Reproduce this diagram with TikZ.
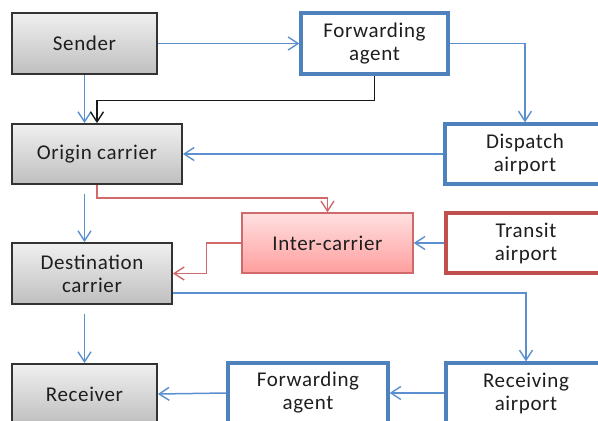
\documentclass[tikz,border=0pt]{standalone}
\usepackage{fontspec}
\setmainfont{Carlito}[LetterSpace=3]
\usetikzlibrary{arrows.meta,positioning}
\definecolor{bline}{HTML}{5B8FD0}
\definecolor{bbox}{HTML}{4F81BD}
\definecolor{rline}{HTML}{D06A6A}
\definecolor{rbox}{HTML}{C0504D}
\definecolor{txt}{HTML}{1E1E1E}
\tikzset{
  base/.style={rectangle, inner sep=0pt, align=center, text=txt,
    font=\fontsize{21}{23}\selectfont},
  greybox/.style={base, draw=black!80, line width=1.8pt,
    top color=black!6, bottom color=black!25},
  bluebox/.style={base, draw=bbox, line width=3.2pt, fill=white},
  redbox/.style={base, draw=rbox, line width=3.2pt, fill=white},
  pinkbox/.style={base, draw=rline, line width=1.4pt,
    top color=red!12, bottom color=red!38},
  tip/.style={-{Straight Barb[length=10pt,width=13pt,line width=1.4pt]}},
  bconn/.style={tip, draw=bline, line width=1.5pt},
  rconn/.style={tip, draw=rline, line width=1.5pt},
  kconn/.style={tip, draw=black!90, line width=1.4pt},
}
\begin{document}
\begin{tikzpicture}[x=1pt,y=-1pt]
\useasboundingbox (0,0) rectangle (598,421);
\clip (0,0) rectangle (598,421);
\node[greybox, minimum width=145pt, minimum height=61pt] (sender) at (84.5,43.5) {Sender};
\node[greybox, minimum width=170pt, minimum height=60pt] (origin) at (97,154) {Origin carrier};
\node[greybox, minimum width=160pt, minimum height=61pt] (dest) at (92,273.5) {Destination\\carrier};
\node[greybox, minimum width=145pt, minimum height=60pt] (receiver) at (84.5,394) {Receiver};
\node[bluebox, minimum width=147pt, minimum height=61pt] (fwdA) at (374.5,43.5) {Forwarding\\agent};
\node[bluebox, minimum width=160pt, minimum height=60pt] (dispatch) at (525,154) {Dispatch\\airport};
\node[pinkbox, minimum width=171pt, minimum height=60pt] (inter) at (327.5,243) {Inter-carrier};
\node[redbox, minimum width=160pt, minimum height=60pt] (transit) at (526,243) {Transit\\airport};
\node[bluebox, minimum width=160pt, minimum height=60pt] (fwdB) at (308,393) {Forwarding\\agent};
\node[bluebox, minimum width=160pt, minimum height=60pt] (recv) at (526,393) {Receiving\\airport};

\draw[bconn] (sender.east) -- (fwdA.west);
\draw[bconn] (sender.south) -- (sender.south |- origin.north);
\draw[kconn] (fwdA.south) -- ++(0,25) -| (origin.north);
\draw[bconn] (fwdA.east) -| (dispatch.north);
\draw[bconn] (dispatch.west) -- (origin.east);
\draw[rconn] (origin.south) -- ++(0,13) -| (inter.north);
\draw[bconn, shorten <=9pt] (origin.south -| sender.south) -- (dest.north -| sender.south);
\draw[rconn] (inter.west) -- ++(-35,0) |- (dest.east);
\draw[bconn] (transit.west) -- (inter.east);
\draw[bconn] ([yshift=-19.5pt]dest.east) -| (recv.north);
\draw[bconn, shorten <=9pt] (receiver.north |- dest.south) -- (receiver.north);
\draw[bconn] (fwdB.west) -- (receiver.east);
\draw[bconn] (recv.west) -- (fwdB.east);
\end{tikzpicture}
\end{document}
